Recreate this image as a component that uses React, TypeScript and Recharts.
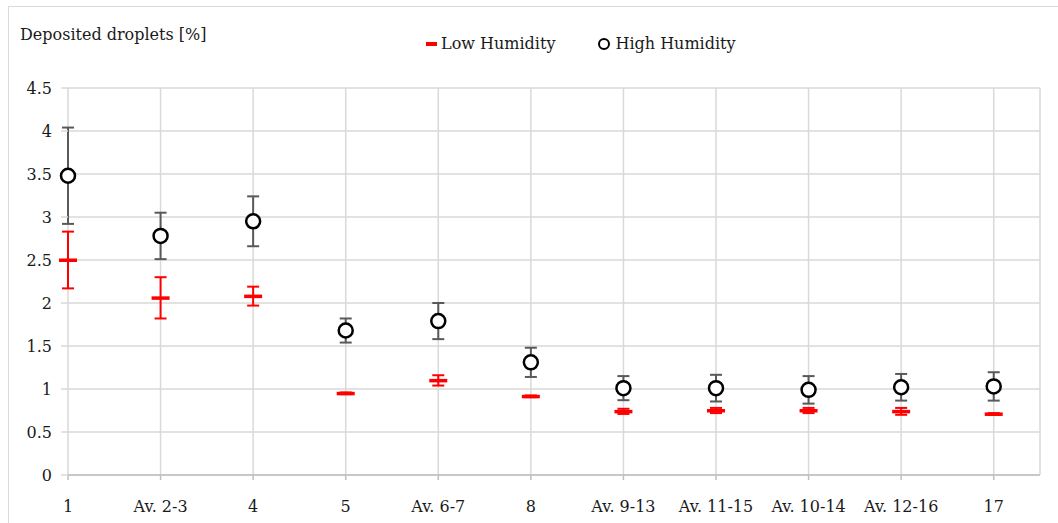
import React from "react"
import {
  ComposedChart,
  Scatter,
  ErrorBar,
  XAxis,
  YAxis,
  CartesianGrid,
} from "recharts"

const categories = [
  "1",
  "Av. 2-3",
  "4",
  "5",
  "Av. 6-7",
  "8",
  "Av. 9-13",
  "Av. 11-15",
  "Av. 10-14",
  "Av. 12-16",
  "17",
]

const lowHumidity = [2.5, 2.06, 2.08, 0.95, 1.1, 0.915, 0.74, 0.75, 0.75, 0.74, 0.71]
const lowHumidityErr = [0.33, 0.24, 0.11, 0.01, 0.06, 0.01, 0.03, 0.03, 0.03, 0.04, 0.01]

const highHumidity = [3.48, 2.78, 2.95, 1.68, 1.79, 1.31, 1.01, 1.01, 0.99, 1.02, 1.03]
const highHumidityErr = [0.56, 0.27, 0.29, 0.14, 0.21, 0.17, 0.14, 0.155, 0.16, 0.155, 0.165]

const yTicks = [0, 0.5, 1, 1.5, 2, 2.5, 3, 3.5, 4, 4.5]

const FONT = "'DejaVu Serif', serif"
const GRID = "#d9d9d9"

const rows = categories.map((name, i) => ({
  x: i,
  name,
  low: lowHumidity[i],
  lowErr: lowHumidityErr[i],
  high: highHumidity[i],
  highErr: highHumidityErr[i],
}))

// red horizontal dash marker
const LowDash = (props: any) => {
  const { cx, cy } = props
  if (cx == null || cy == null) return <g />
  return <rect x={cx - 9} y={cy - 1.5} width={18} height={3.5} fill="#ff0000" />
}

// open circle marker
const HighCircle = (props: any) => {
  const { cx, cy } = props
  if (cx == null || cy == null) return <g />
  return <circle cx={cx} cy={cy} r={7} fill="#ffffff" stroke="#000000" strokeWidth={2.5} />
}

export default function App() {
  return (
    <div
      style={{
        position: "absolute",
        left: 8,
        top: 6,
        width: 1060,
        height: 530,
        borderTop: `1px solid ${GRID}`,
        borderLeft: `1px solid ${GRID}`,
        boxSizing: "border-box",
        background: "#fff",
        fontFamily: FONT,
      }}
    >
      <div
        style={{
          position: "absolute",
          left: 11,
          top: 18,
          fontSize: 16,
          color: "#1a1a1a",
        }}
      >
        Deposited droplets [%]
      </div>

      {/* legend */}
      <div
        style={{
          position: "absolute",
          left: 417,
          top: 27,
          fontSize: 16,
          color: "#1a1a1a",
          display: "flex",
          alignItems: "center",
        }}
      >
        <span
          style={{
            display: "inline-block",
            width: 11,
            height: 4,
            background: "#ff0000",
            marginRight: 4,
          }}
        />
        <span>Low Humidity</span>
        <span
          style={{
            display: "inline-block",
            width: 8,
            height: 8,
            borderRadius: "50%",
            border: "2px solid #000",
            marginLeft: 43,
            marginRight: 5,
          }}
        />
        <span>High Humidity</span>
      </div>

      <ComposedChart
        width={1040}
        height={511}
        data={rows}
        margin={{ top: 81, right: 9, bottom: 0, left: 0 }}
      >
        <CartesianGrid stroke={GRID} strokeWidth={1.5} />
        <XAxis
          dataKey="x"
          type="number"
          domain={[0, 10.5]}
          ticks={categories.map((_, i) => i)}
          tickFormatter={(v: number) => categories[v] ?? ""}
          interval={0}
          height={43}
          axisLine={{ stroke: "#bfbfbf", strokeWidth: 1.5 }}
          tickLine={{ stroke: "#bfbfbf", strokeWidth: 1.5 }}
          tickSize={5}
          tickMargin={21}
          tick={{ fontSize: 16, fill: "#1a1a1a", fontFamily: FONT }}
        />
        <YAxis
          type="number"
          domain={[0, 4.5]}
          ticks={yTicks}
          interval={0}
          width={59}
          axisLine={false}
          tickLine={{ stroke: GRID, strokeWidth: 1.5 }}
          tickSize={7}
          tickMargin={9}
          tick={{ fontSize: 16, fill: "#1a1a1a", fontFamily: FONT }}
        />
        <Scatter dataKey="low" shape={LowDash} isAnimationActive={false}>
          <ErrorBar
            dataKey="lowErr"
            direction="y"
            width={6}
            stroke="#ff0000"
            strokeWidth={2}
            isAnimationActive={false}
          />
        </Scatter>
        <Scatter dataKey="high" shape={HighCircle} isAnimationActive={false}>
          <ErrorBar
            dataKey="highErr"
            direction="y"
            width={6}
            stroke="#595959"
            strokeWidth={2}
            isAnimationActive={false}
          />
        </Scatter>
      </ComposedChart>
    </div>
  )
}
